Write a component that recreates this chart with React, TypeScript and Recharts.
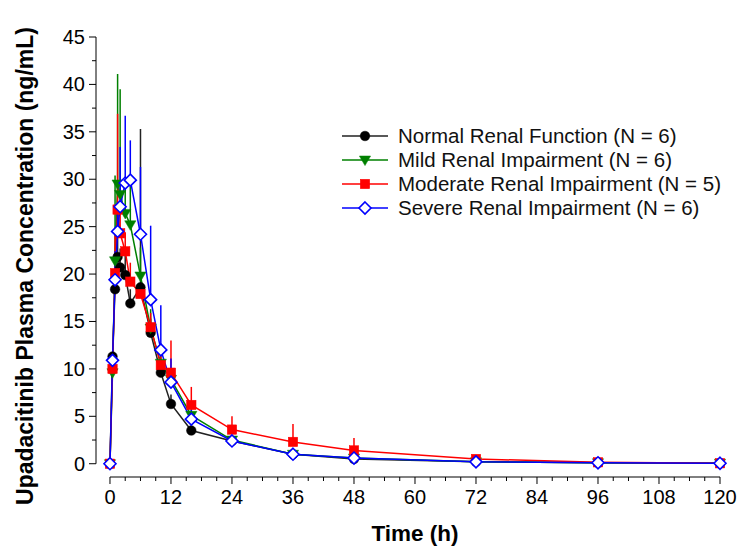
import React from 'react';
import { LineChart, Line, XAxis, YAxis, ErrorBar, ReferenceLine, Label } from 'recharts';

// ---------- data ----------
const timeH = [0, 0.5, 1, 1.5, 2, 3, 4, 6, 8, 10, 12, 16, 24, 36, 48, 72, 96, 120];

const normalMean = [0, 11.3, 18.4, 21.8, 20.7, 19.9, 16.9, 18.6, 13.8, 9.6, 6.3, 3.5, 2.4, 1.0, 0.5, 0.2, 0.1, 0.05];
const normalSD = [0, 0.5, 4.0, 3.0, 2.0, 2.5, 1.5, 16.7, 1.5, 1.2, 1.0, 0.8, 0.5, 0.5, 0.3, 0.1, 0.05, 0.02];

const mildMean = [0, 9.6, 21.4, 29.5, 28.4, 26.4, 25.2, 19.8, 14.3, 10.6, 8.9, 5.1, 2.5, 1.0, 0.6, 0.2, 0.1, 0.05];
const mildSD = [0, 0.5, 9.0, 11.6, 11.1, 3.5, 4.5, 3.0, 2.0, 1.5, 1.0, 0.8, 0.5, 0.4, 0.3, 0.1, 0.05, 0.02];

const moderateMean = [0, 10.0, 20.1, 26.8, 24.3, 22.4, 19.2, 17.9, 14.4, 10.4, 9.6, 6.2, 3.6, 2.3, 1.4, 0.5, 0.15, 0.05];
const moderateSD = [0, 0.5, 4.0, 10.1, 3.0, 2.0, 2.0, 1.0, 1.5, 1.5, 3.4, 1.9, 1.4, 1.9, 1.3, 0.3, 0.1, 0.02];

const severeMean = [0, 10.9, 19.4, 24.5, 27.1, 29.6, 29.9, 24.2, 17.3, 12.0, 8.6, 4.7, 2.4, 1.0, 0.6, 0.2, 0.1, 0.05];
const severeSD = [0, 0.5, 3.0, 2.0, 6.3, 7.1, 4.2, 7.1, 7.8, 4.7, 2.5, 1.0, 0.5, 0.4, 0.3, 0.1, 0.05, 0.02];

const seriesNames = [
  'Normal Renal Function (N = 6)',
  'Mild Renal Impairment (N = 6)',
  'Moderate Renal Impairment (N = 5)',
  'Severe Renal Impairment (N = 6)',
];

const xTicks = [0, 3, 6, 9, 12, 15, 18, 21, 24, 27, 30, 33, 36, 39, 42, 45, 48, 51, 54, 57, 60, 63, 66, 69, 72, 75, 78, 81, 84, 87, 90, 93, 96, 99, 102, 105, 108, 111, 114, 117, 120];
const xMajorTicks = [0, 12, 24, 36, 48, 60, 72, 84, 96, 108, 120];
const yTicks = [0, 2.5, 5, 7.5, 10, 12.5, 15, 17.5, 20, 22.5, 25, 27.5, 30, 32.5, 35, 37.5, 40, 42.5, 45];
const yMajorTicks = [0, 5, 10, 15, 20, 25, 30, 35, 40, 45];

const xDomain = [-2.75, 120];
const yDomain = [-1.4, 45];

const data = timeH.map((t, i) => ({
  t,
  normal: normalMean[i],
  normalErr: [0, normalSD[i]],
  mild: mildMean[i],
  mildErr: [0, mildSD[i]],
  moderate: moderateMean[i],
  moderateErr: [0, moderateSD[i]],
  severe: severeMean[i],
  severeErr: [0, severeSD[i]],
}));

// ---------- styles ----------
const FONT = '"Liberation Sans", Arial, Helvetica, sans-serif';
const C_BLACK = '#000000';
const C_BLACK_LINE = '#222222';
const C_GREEN = '#008000';
const C_RED = '#ff0000';
const C_BLUE = '#0000ff';

// ---------- markers ----------
const circleMark = (cx: number, cy: number, key?: any) => (
  <circle key={key} cx={cx} cy={cy} r={4.8} fill={C_BLACK} stroke={C_BLACK} strokeWidth={0.5} />
);
const triMark = (cx: number, cy: number, key?: any) => (
  <path key={key} d={`M${cx - 5.6},${cy - 4} L${cx + 5.6},${cy - 4} L${cx},${cy + 5.6} Z`} fill={C_GREEN} stroke={C_GREEN} strokeWidth={0.5} />
);
const squareMark = (cx: number, cy: number, key?: any) => (
  <rect key={key} x={cx - 4.7} y={cy - 4.7} width={9.4} height={9.4} fill={C_RED} stroke={C_RED} strokeWidth={0.5} />
);
const diamondMark = (cx: number, cy: number, key?: any) => (
  <path key={key} d={`M${cx},${cy - 6} L${cx + 6},${cy} L${cx},${cy + 6} L${cx - 6},${cy} Z`} fill="#ffffff" stroke={C_BLUE} strokeWidth={1.6} />
);

const dotFn = (mk: (cx: number, cy: number, key?: any) => React.ReactElement, prefix: string) =>
  (p: any) => {
    if (p.cx == null || p.cy == null) return <g key={`${prefix}-${p.index}`} />;
    return mk(p.cx, p.cy, `${prefix}-${p.index}`);
  };

// ---------- ticks ----------
const XTick = (props: any) => {
  const { x, y, payload } = props;
  const v = payload.value;
  const major = xMajorTicks.includes(v);
  return (
    <g>
      <line x1={x} x2={x} y1={y} y2={y + (major ? 7 : 4)} stroke="#000" strokeWidth={1} />
      {major && (
        <text x={x} y={y + 27} textAnchor="middle" fontSize={20} fontFamily={FONT} fill="#000">
          {v}
        </text>
      )}
    </g>
  );
};

const YTick = (props: any) => {
  const { x, y, payload } = props;
  const v = payload.value;
  const major = yMajorTicks.includes(v);
  return (
    <g>
      <line x1={x} x2={x - (major ? 7 : 4)} y1={y} y2={y} stroke="#000" strokeWidth={1} />
      {major && (
        <text x={x - 11} y={y + 7} textAnchor="end" fontSize={20} fontFamily={FONT} fill="#000">
          {v}
        </text>
      )}
    </g>
  );
};

const XTitle = (props: any) => {
  const vb = props.viewBox || { x: 96, y: 477, width: 624, height: 72 };
  const cx = vb.x + vb.width / 2 + 7;
  return (
    <text x={cx} y={vb.y + 64} textAnchor="middle" fontSize={22.5} fontWeight="bold" fontFamily={FONT} fill="#000">
      Time (h)
    </text>
  );
};

const YTitle = (props: any) => {
  const vb = props.viewBox || { x: 0, y: 37, width: 96, height: 440 };
  const cx = 25;
  const cy = vb.y + vb.height / 2 + 9;
  return (
    <text
      x={cx}
      y={cy}
      transform={`rotate(-90, ${cx}, ${cy})`}
      textAnchor="middle"
      dominantBaseline="central"
      fontSize={23}
      fontWeight="bold"
      fontFamily={FONT}
      fill="#000"
    >
      Upadacitinib Plasma Concentration (ng/mL)
    </text>
  );
};

// ---------- legend ----------
const legendItems = [
  { name: seriesNames[0], color: C_BLACK_LINE, mk: circleMark },
  { name: seriesNames[1], color: C_GREEN, mk: triMark },
  { name: seriesNames[2], color: C_RED, mk: squareMark },
  { name: seriesNames[3], color: C_BLUE, mk: diamondMark },
];

const LegendBox = () => (
  <div
    style={{
      position: 'absolute',
      left: 341,
      top: 124,
      fontFamily: FONT,
      fontSize: 20.5,
      color: '#111',
      lineHeight: '24px',
      pointerEvents: 'none',
    }}
  >
    {legendItems.map((it, i) => (
      <div key={i} style={{ display: 'flex', alignItems: 'center', height: 24 }}>
        <svg width={48} height={24} style={{ display: 'block' }}>
          <line x1={1} x2={47} y1={12} y2={12} stroke={it.color} strokeWidth={1.5} />
          {it.mk(24, 12)}
        </svg>
        <span style={{ marginLeft: 9, whiteSpace: 'nowrap' }}>{it.name}</span>
      </div>
    ))}
  </div>
);

export default function App() {
  return (
    <div style={{ position: 'absolute', left: 0, top: 0, width: 738, height: 549, background: '#fff' }}>
      <LineChart
        width={738}
        height={549}
        data={data}
        margin={{ top: 37, right: 18, bottom: 0, left: 0 }}
      >
        <XAxis
          dataKey="t"
          type="number"
          domain={xDomain}
          ticks={xTicks}
          interval={0}
          height={72}
          axisLine={false}
          tickLine={false}
          tickSize={0}
          tickMargin={0}
          tick={<XTick />}
        >
          <Label content={<XTitle />} />
        </XAxis>
        <YAxis
          type="number"
          domain={yDomain}
          ticks={yTicks}
          interval={0}
          width={96}
          axisLine={false}
          tickLine={false}
          tickSize={0}
          tickMargin={0}
          tick={<YTick />}
        >
          <Label content={<YTitle />} />
        </YAxis>
        <ReferenceLine
          segment={[{ x: 0, y: yDomain[0] }, { x: 120, y: yDomain[0] }]}
          stroke="#000"
          strokeWidth={1}
          ifOverflow="visible"
        />
        <ReferenceLine
          segment={[{ x: xDomain[0], y: 0 }, { x: xDomain[0], y: 45 }]}
          stroke="#000"
          strokeWidth={1}
          ifOverflow="visible"
        />
        <Line
          dataKey="normal"
          name={seriesNames[0]}
          stroke={C_BLACK_LINE}
          strokeWidth={1.5}
          isAnimationActive={false}
          dot={dotFn(circleMark, 'n')}
          activeDot={false}
        >
          <ErrorBar dataKey="normalErr" width={0} stroke={C_BLACK_LINE} strokeWidth={1.5} direction="y" isAnimationActive={false} />
        </Line>
        <Line
          dataKey="mild"
          name={seriesNames[1]}
          stroke={C_GREEN}
          strokeWidth={1.5}
          isAnimationActive={false}
          dot={dotFn(triMark, 'g')}
          activeDot={false}
        >
          <ErrorBar dataKey="mildErr" width={0} stroke={C_GREEN} strokeWidth={1.5} direction="y" isAnimationActive={false} />
        </Line>
        <Line
          dataKey="moderate"
          name={seriesNames[2]}
          stroke={C_RED}
          strokeWidth={1.5}
          isAnimationActive={false}
          dot={dotFn(squareMark, 'r')}
          activeDot={false}
        >
          <ErrorBar dataKey="moderateErr" width={0} stroke={C_RED} strokeWidth={1.5} direction="y" isAnimationActive={false} />
        </Line>
        <Line
          dataKey="severe"
          name={seriesNames[3]}
          stroke={C_BLUE}
          strokeWidth={1.5}
          isAnimationActive={false}
          dot={dotFn(diamondMark, 'b')}
          activeDot={false}
        >
          <ErrorBar dataKey="severeErr" width={0} stroke={C_BLUE} strokeWidth={1.5} direction="y" isAnimationActive={false} />
        </Line>
      </LineChart>
      <LegendBox />
    </div>
  );
}
